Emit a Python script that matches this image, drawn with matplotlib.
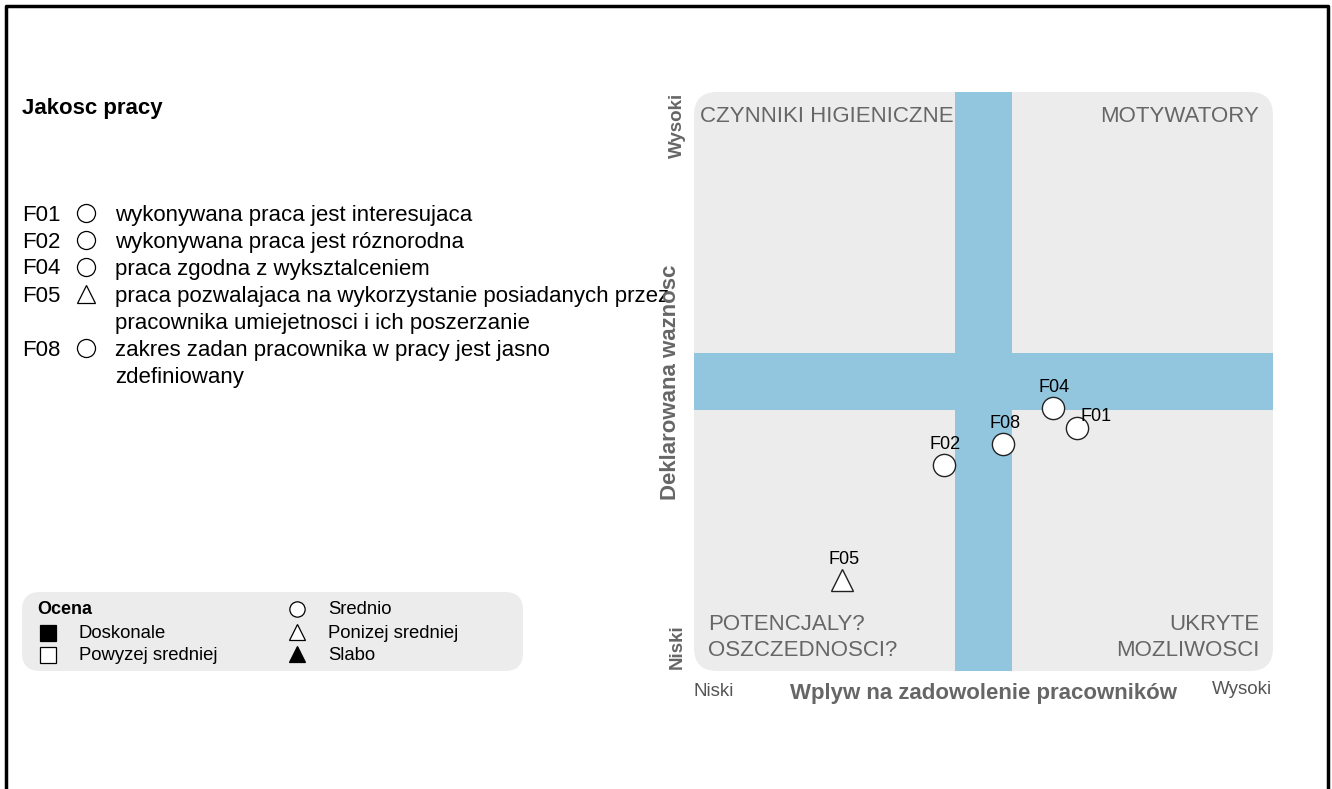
import matplotlib
matplotlib.use("Agg")
import matplotlib.pyplot as plt
from matplotlib.patches import FancyBboxPatch

plt.rcParams['font.family'] = ['Liberation Sans', 'DejaVu Sans']

# factors
codes = ['F01', 'F02', 'F04', 'F05', 'F08']
descriptions = ['wykonywana praca jest interesujaca',
                'wykonywana praca jest róznorodna',
                'praca zgodna z wyksztalceniem',
                'praca pozwalajaca na wykorzystanie posiadanych przez\npracownika umiejetnosci i ich poszerzanie',
                'zakres zadan pracownika w pracy jest jasno\nzdefiniowany']
ratings = ['Srednio', 'Srednio', 'Srednio', 'Ponizej sredniej', 'Srednio']
# position on matrix (0-1 scale)
impact = [0.661, 0.432, 0.620, 0.256, 0.534]
importance = [0.420, 0.356, 0.454, 0.157, 0.392]

title = 'Jakosc pracy'
quadrants = ['CZYNNIKI HIGIENICZNE', 'MOTYWATORY',
             'POTENCJALY?\nOSZCZEDNOSCI?', 'UKRYTE\nMOZLIWOSCI']
legend_items = ['Doskonale', 'Powyzej sredniej', 'Srednio', 'Ponizej sredniej', 'Slabo']

# marker style per rating: (marker, fill)
styles = {'Doskonale': ('s', 'black'), 'Powyzej sredniej': ('s', 'white'),
          'Srednio': ('o', 'white'), 'Ponizej sredniej': ('^', 'white'),
          'Slabo': ('^', 'black')}

W, H = 1332, 789
fig = plt.figure(figsize=(W / 100, H / 100), dpi=100)

# background axes in pixel coordinates
bg = fig.add_axes([0, 0, 1, 1])
bg.set_xlim(0, W)
bg.set_ylim(H, 0)
bg.axis('off')

# frame
bg.plot([6, 6, 1328, 1328], [H + 5, 6, 6, H + 5], color='black', lw=2.5)

bg.text(22, 108, title, fontsize=16, fontweight='bold', va='center')

# list of factors
y = 213
for code, desc, r in zip(codes, descriptions, ratings):
    m, fc = styles[r]
    bg.text(22, y + 2, code, fontsize=16, va='center')
    bg.plot(86, y, marker=m, ms=13, mfc=fc, mec='black', mew=0.9)
    for line in desc.split('\n'):
        bg.text(115, y + 2, line, fontsize=16, va='center')
        y += 27

# legend box
bg.add_patch(FancyBboxPatch((22, 592), 501, 79, boxstyle='round,pad=0,rounding_size=18',
                            fc='#ececec', ec='none'))
bg.text(37, 610, 'Ocena', fontsize=13, fontweight='bold', va='center')
leg_pos = [(48, 633), (48, 655), (297, 609), (297, 632), (297, 654)]
for name, (lx, ly) in zip(legend_items, leg_pos):
    m, fc = styles[name]
    bg.plot(lx, ly, marker=m, ms=11, mfc=fc, mec='black', mew=0.9)
    bg.text(lx + 31, ly + 1, name, fontsize=13.3, va='center')

# axis labels
gray = '#666666'
bg.text(670, 382, 'Deklarowana waznosc', rotation=90, fontsize=16, fontweight='bold',
        color=gray, ha='center', va='center')
bg.text(677, 125, 'Wysoki', rotation=90, fontsize=13.5, fontweight='bold', color=gray,
        ha='center', va='center')
bg.text(677, 647, 'Niski', rotation=90, fontsize=13.5, fontweight='bold', color=gray,
        ha='center', va='center')
bg.text(983, 693, 'Wplyw na zadowolenie pracowników', fontsize=16, fontweight='bold',
        color=gray, ha='center', va='center')
bg.text(714, 691, 'Niski', fontsize=13.5, color='#555555', ha='center', va='center')
bg.text(1242, 689, 'Wysoki', fontsize=13.5, color='#555555', ha='center', va='center')

# matrix
ax = fig.add_axes([694 / W, (H - 671) / H, 579 / W, 579 / H])
ax.set_xlim(0, 1)
ax.set_ylim(0, 1)
ax.axis('off')
ax.add_patch(FancyBboxPatch((0, 0), 1, 1, boxstyle='round,pad=0,rounding_size=0.04',
                            fc='#ececec', ec='none', zorder=0))
blue = '#92c5de'
ax.axvspan(0.45, 0.55, color=blue, lw=0, zorder=1)
ax.axhspan(0.45, 0.55, color=blue, lw=0, zorder=1)

ax.text(0.01, 0.957, quadrants[0], fontsize=16, color=gray, va='center')
ax.text(0.976, 0.957, quadrants[1], fontsize=16, color=gray, va='center', ha='right')
ax.text(0.024, 0.058, quadrants[2], fontsize=16, color=gray, va='center', linespacing=1.27)
ax.text(0.976, 0.058, quadrants[3], fontsize=16, color=gray, va='center', ha='right',
        linespacing=1.27)

label_offset = {'F01': (14, 8)}
for code, x, yv, r in zip(codes, impact, importance, ratings):
    m, fc = styles[r]
    ax.plot(x, yv, marker=m, ms=16, mfc=fc, mec='#222222', mew=1, zorder=3)
    dx, dy = label_offset.get(code, (1, 15))
    ax.annotate(code, (x, yv), xytext=(dx, dy), textcoords='offset points',
                fontsize=13, ha='center', va='center', zorder=4)

fig.savefig('out.png', dpi=100)
